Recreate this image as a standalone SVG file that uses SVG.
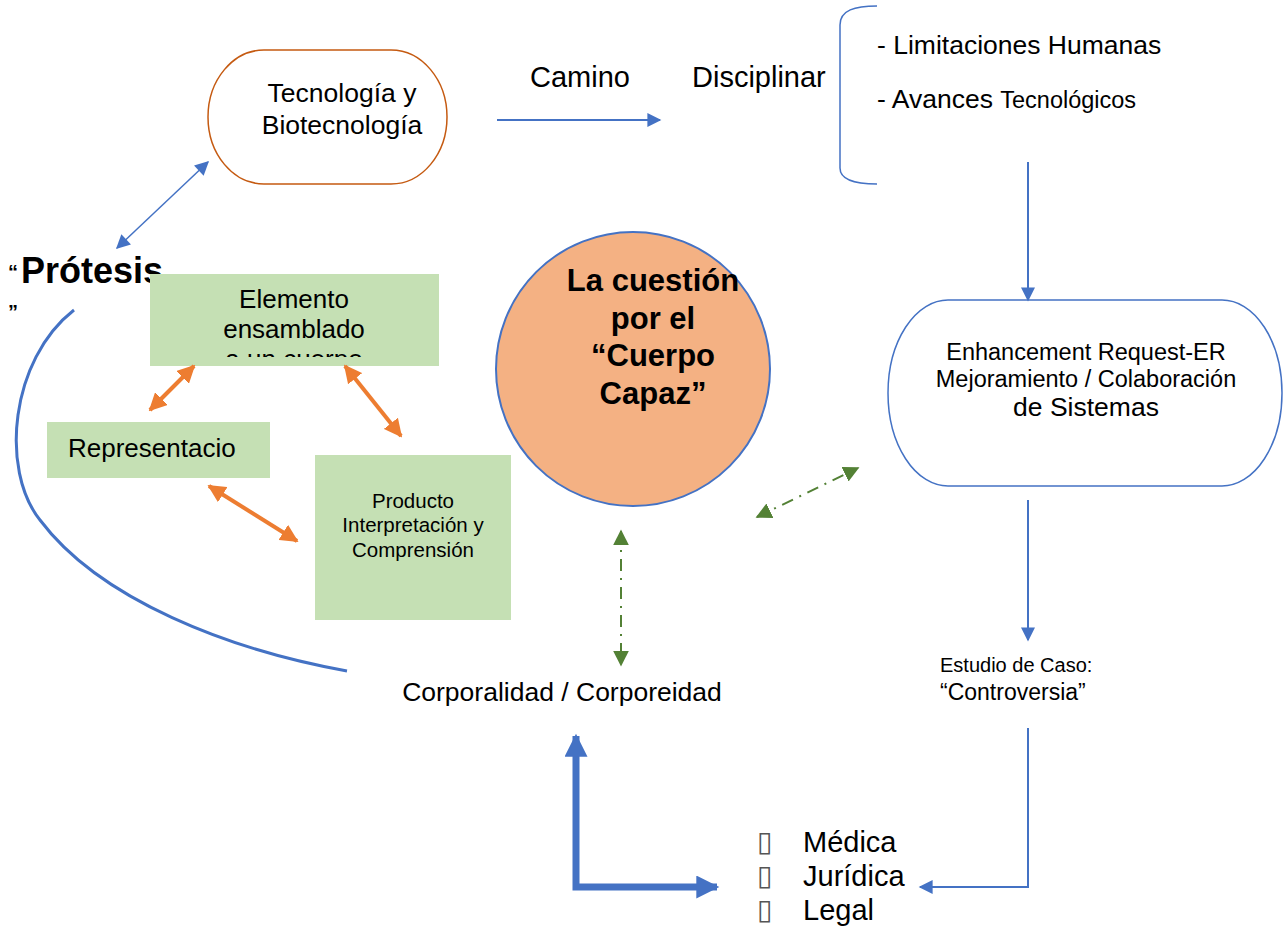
<svg xmlns="http://www.w3.org/2000/svg" width="1285" height="926" viewBox="0 0 1285 926">
<style>
text{font-family:"Liberation Sans",Arial,sans-serif;fill:#000}
.blue{stroke:#4472C4;fill:none}
.org{stroke:#ED7D31;stroke-width:4;fill:none}
.grn{stroke:#538135;stroke-width:2;fill:none;stroke-dasharray:12 7 2 7}
.box{fill:#C5E0B4}
.tofu{font-family:"DejaVu Sans",sans-serif;font-size:28px;fill:#555}
</style>
<defs>
<marker id="abm" viewBox="0 0 10 10" refX="9" refY="5" markerWidth="16" markerHeight="14" orient="auto-start-reverse" markerUnits="userSpaceOnUse"><path d="M0,0L10,5L0,10z" fill="#4472C4"/></marker>
<marker id="abig" viewBox="0 0 10 10" refX="9" refY="5" markerWidth="24" markerHeight="23" orient="auto-start-reverse" markerUnits="userSpaceOnUse"><path d="M0,0L10,5L0,10z" fill="#4472C4"/></marker>
<marker id="ao" viewBox="0 0 10 10" refX="9" refY="5" markerWidth="18" markerHeight="18" orient="auto-start-reverse" markerUnits="userSpaceOnUse"><path d="M0,0L10,5L0,10z" fill="#ED7D31"/></marker>
<marker id="ag" viewBox="0 0 10 10" refX="9" refY="5" markerWidth="16" markerHeight="16" orient="auto-start-reverse" markerUnits="userSpaceOnUse"><path d="M0,0L10,5L0,10z" fill="#538135"/></marker>
<clipPath id="clipE"><rect x="150" y="274" width="289" height="83"/></clipPath>
</defs>

<g id="prostesis">
<text x="8" y="279" font-size="20" font-weight="bold">“</text>
<text x="21" y="283" font-size="36" font-weight="bold">Prótesis</text>
<text x="8" y="319" font-size="20" font-weight="bold">”</text>
</g>

<g id="tecnologia">
<rect x="208" y="50" width="239" height="134" rx="56" ry="67" fill="#fff" stroke="#C55A11" stroke-width="1.5"/>
<text x="342" y="102" font-size="26.5" text-anchor="middle">Tecnología y</text>
<text x="342" y="134" font-size="26.5" text-anchor="middle">Biotecnología</text>
</g>

<g id="camino">
<text x="530" y="87" font-size="29">Camino</text>
<text x="692" y="87" font-size="29">Disciplinar</text>
</g>

<g id="bracket">
<path class="blue" stroke-width="1.5" d="M877,6 C855,6 840,10 840,25 L840,168 C840,180 855,184 877,184"/>
<text x="877" y="54" font-size="26.5">- Limitaciones Humanas</text>
<text x="877" y="108" font-size="26.5">- Avances <tspan font-size="23.5">Tecnológicos</tspan></text>
</g>

<g id="enhancement">
<rect x="888" y="300" width="394" height="186" rx="60" ry="93" fill="#fff" stroke="#4472C4" stroke-width="1.5"/>
<text x="1086" y="360" font-size="23.5" text-anchor="middle">Enhancement Request-ER</text>
<text x="1086" y="387" font-size="23.5" text-anchor="middle">Mejoramiento / Colaboración</text>
<text x="1086" y="416" font-size="26.5" text-anchor="middle">de Sistemas</text>
</g>

<g id="estudio">
<text x="940" y="672" font-size="20">Estudio de Caso:</text>
<text x="940" y="700" font-size="23">“Controversia”</text>
</g>

<g id="cuerpo">
<circle cx="633" cy="369" r="137" fill="#F4B183" stroke="#4472C4" stroke-width="2"/>
<g font-size="31" font-weight="bold" text-anchor="middle">
<text x="653" y="291">La cuestión</text>
<text x="653" y="329">por el</text>
<text x="653" y="366">“Cuerpo</text>
<text x="653" y="404">Capaz”</text>
</g>
</g>

<g id="elemento">
<rect class="box" x="150" y="274" width="289" height="92"/>
<g clip-path="url(#clipE)" font-size="26" text-anchor="middle">
<text x="294" y="308">Elemento</text>
<text x="294" y="338">ensamblado</text>
<text x="294" y="368">a un cuerpo</text>
</g>
</g>

<g id="representacion">
<rect class="box" x="47" y="422" width="223" height="56"/>
<text x="68" y="457" font-size="26">Representacio</text>
</g>

<g id="producto">
<rect class="box" x="315" y="455" width="196" height="165"/>
<g font-size="20.5" text-anchor="middle">
<text x="413" y="508">Producto</text>
<text x="413" y="532">Interpretación y</text>
<text x="413" y="557">Comprensión</text>
</g>
</g>

<g id="corporalidad">
<text x="562" y="701" font-size="26.5" text-anchor="middle">Corporalidad / Corporeidad</text>
</g>

<g id="ambitos" font-size="29">
<text class="tofu" x="757" y="851">▯</text>
<text x="803" y="852">Médica</text>
<text class="tofu" x="757" y="885">▯</text>
<text x="803" y="886">Jurídica</text>
<text class="tofu" x="757" y="919">▯</text>
<text x="803" y="920">Legal</text>
</g>

<g id="connectors">
<line class="blue" stroke-width="2" x1="497" y1="120" x2="660" y2="120" marker-end="url(#abm)"/>
<line class="blue" stroke-width="2" x1="1028" y1="162" x2="1028" y2="300" marker-end="url(#abm)"/>
<line class="blue" stroke-width="2" x1="1028" y1="500" x2="1028" y2="640" marker-end="url(#abm)"/>
<path class="blue" stroke-width="2" d="M1028,728 L1028,887 L920,887" marker-end="url(#abm)"/>
<line class="blue" stroke-width="1.5" x1="117" y1="248" x2="208" y2="162" marker-start="url(#abm)" marker-end="url(#abm)"/>
<path class="blue" stroke-width="3" d="M74,310 C10,360 0,470 40,520 C100,600 230,650 347,671"/>
<path class="blue" stroke-width="7" d="M576,736 L576,887 L717,887" marker-start="url(#abig)" marker-end="url(#abig)"/>
<line class="org" x1="150" y1="410" x2="194" y2="366" marker-start="url(#ao)" marker-end="url(#ao)"/>
<line class="org" x1="345" y1="366" x2="401" y2="436" marker-start="url(#ao)" marker-end="url(#ao)"/>
<line class="org" x1="209" y1="486" x2="297" y2="541" marker-start="url(#ao)" marker-end="url(#ao)"/>
<line class="grn" x1="621" y1="531" x2="621" y2="665" marker-start="url(#ag)" marker-end="url(#ag)"/>
<line class="grn" x1="757" y1="517" x2="858" y2="468" marker-start="url(#ag)" marker-end="url(#ag)"/>
</g>
</svg>
